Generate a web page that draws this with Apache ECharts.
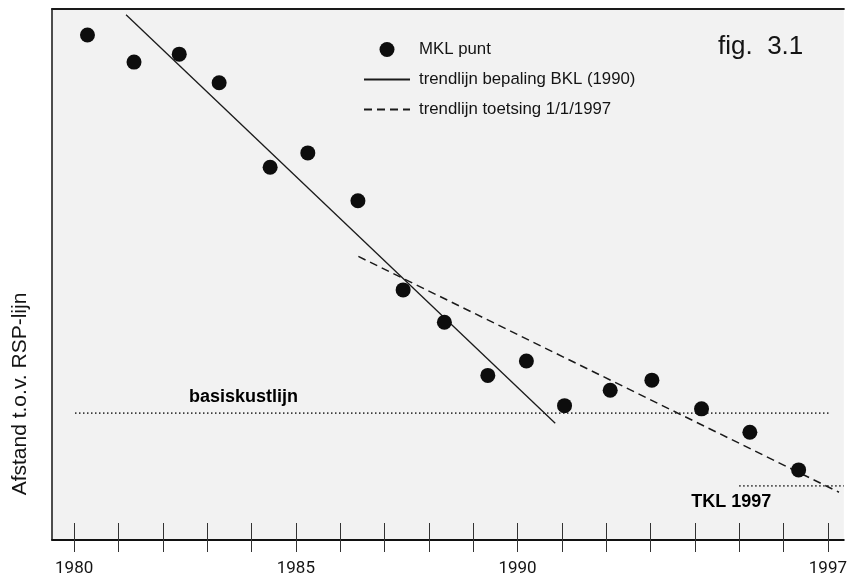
<!DOCTYPE html>
<html>
<head>
<meta charset="utf-8">
<script src="https://cdn.jsdelivr.net/npm/echarts@6/dist/echarts.min.js"></script>
<style>
html,body{margin:0;padding:0;background:#fff;}
#c{width:850px;height:582px;}
</style>
</head>
<body>
<div id="c"></div>
<script>
// ---- data ----
const mklYears  = [1980.3, 1981.35, 1982.37, 1983.27, 1984.42, 1985.27, 1986.4, 1987.42, 1988.35, 1989.33, 1990.2, 1991.06, 1992.09, 1993.03, 1994.15, 1995.24, 1996.34];
const mklValues = [95.1, 90.0, 91.5, 86.1, 70.2, 72.9, 63.9, 47.1, 41.0, 31.0, 33.7, 25.3, 28.2, 30.1, 24.7, 20.3, 13.2];
const trendBKLYears  = [1981.17, 1990.85];
const trendBKLValues = [98.9, 22.0];
const trendToetsYears  = [1986.41, 1997.25];
const trendToetsValues = [53.4, 9.0];
const basisYears = [1980.02, 1997.06];
const basisValue = 23.9;
const tklYears = [1995.0, 1997.36];
const tklValue = 10.2;
const tickYears  = [1980,1981,1982,1983,1984,1985,1986,1987,1988,1989,1990,1991,1992,1993,1994,1995,1996,1997];
const tickLabels = [1980, 1985, 1990, 1997];
const seriesNames = ['MKL punt', 'trendlijn bepaling BKL (1990)', 'trendlijn toetsing 1/1/1997'];
const annotationTexts = ['basiskustlijn', 'TKL 1997'];
const annotationYears = [1983.82, 1994.82];

const zip = (xs, ys) => xs.map((x, i) => [x, ys[i]]);
const TXT = '#141414';
const XMIN = 1979.5, XMAX = 1997.36;

const chart = echarts.init(document.getElementById('c'));
const baseX = {
  type: 'value', min: XMIN, max: XMAX, position: 'bottom',
  splitLine: { show: false }
};
const hiddenIcon = { color: 'rgba(0,0,0,0)', borderWidth: 0, opacity: 0 };
chart.setOption({
  backgroundColor: '#ffffff',
  animation: false,
  title: {
    text: 'fig.  3.1', left: 713, top: 29,
    textStyle: { fontFamily: 'Liberation Sans', fontWeight: 'normal', fontSize: 26, color: TXT }
  },
  grid: {
    left: 52, top: 9, right: 0, bottom: 42,
    show: true, borderWidth: 0, backgroundColor: '#f2f2f2'
  },
  legend: {
    orient: 'vertical', left: 358, top: 36, itemGap: 13,
    itemWidth: 46, itemHeight: 15,
    data: [
      { name: seriesNames[0] },
      { name: seriesNames[1], itemStyle: hiddenIcon },
      { name: seriesNames[2], itemStyle: hiddenIcon }
    ],
    textStyle: { fontFamily: 'Liberation Sans', fontSize: 16.8, color: TXT, padding: [0, 0, 0, 4] }
  },
  xAxis: [
    Object.assign({}, baseX, {
      axisLine: { show: true, lineStyle: { color: '#111', width: 1.8 } },
      axisTick: { show: true, inside: true, length: 17, customValues: tickYears, lineStyle: { color: '#333', width: 1 } },
      axisLabel: { show: true, customValues: tickLabels, margin: 20, fontFamily: 'Roboto', fontSize: 17, color: TXT, formatter: v => String(v) }
    }),
    Object.assign({}, baseX, {
      axisLine: { show: false },
      axisTick: { show: true, inside: false, length: 12, customValues: tickYears, lineStyle: { color: '#333', width: 1 } },
      axisLabel: { show: false }
    }),
    Object.assign({}, baseX, {
      position: 'top',
      axisLine: { show: true, lineStyle: { color: '#1a1a1a', width: 2 } },
      axisTick: { show: false },
      axisLabel: { show: false }
    })
  ],
  yAxis: {
    type: 'value', min: 0, max: 100,
    axisLine: { show: true, lineStyle: { color: '#222', width: 1.6 } },
    axisTick: { show: false }, axisLabel: { show: false }, splitLine: { show: false }
  },
  graphic: [{
    type: 'text', x: 20, y: 394, rotation: Math.PI / 2,
    style: { text: 'Afstand t.o.v. RSP-lijn', fontFamily: 'Liberation Sans', fontSize: 21, fill: TXT, align: 'center', verticalAlign: 'middle' }
  }],
  series: [
    {
      name: 'basis', type: 'line', data: zip(basisYears, [basisValue, basisValue]),
      showSymbol: false, silent: true, z: 1,
      lineStyle: { color: '#333', width: 1.6, type: [1.4, 2.6] }
    },
    {
      name: 'tkl', type: 'line', data: zip(tklYears, [tklValue, tklValue]),
      showSymbol: false, silent: true, z: 1,
      lineStyle: { color: '#333', width: 1.6, type: [1.4, 2.6] }
    },
    {
      name: seriesNames[1], type: 'line', data: zip(trendBKLYears, trendBKLValues),
      showSymbol: false, symbol: 'none', z: 2,
      lineStyle: { color: '#1a1a1a', width: 1.3, type: 'solid' }, itemStyle: { color: '#1a1a1a' }
    },
    {
      name: seriesNames[2], type: 'line', data: zip(trendToetsYears, trendToetsValues),
      showSymbol: false, symbol: 'none', z: 2,
      lineStyle: { color: '#1a1a1a', width: 1.5, type: [8, 5] }, itemStyle: { color: '#1a1a1a' }
    },
    {
      name: seriesNames[0], type: 'scatter', data: zip(mklYears, mklValues),
      symbol: 'circle', symbolSize: 15, z: 3,
      itemStyle: { color: '#0d0d0d', opacity: 1 }
    },
    {
      name: 'annotations', type: 'scatter', silent: true, z: 4,
      data: [
        { value: [annotationYears[0], basisValue], label: { formatter: annotationTexts[0], offset: [0, -16] } },
        { value: [annotationYears[1], tklValue], label: { formatter: annotationTexts[1], offset: [0, 16] } }
      ],
      symbolSize: 0.1, itemStyle: { color: 'rgba(0,0,0,0)' },
      label: { show: true, position: 'inside', fontFamily: 'Liberation Sans', fontWeight: 'bold', fontSize: 18, color: '#000', opacity: 1 }
    }
  ]
});
</script>
</body>
</html>
